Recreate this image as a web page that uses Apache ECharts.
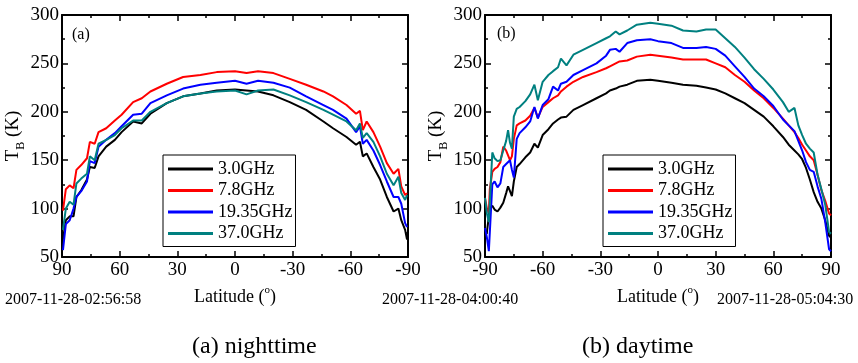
<!DOCTYPE html>
<html>
<head>
<meta charset="utf-8">
<script src="https://cdn.jsdelivr.net/npm/echarts@6/dist/echarts.min.js"></script>
<style>
    html, body {margin: 0; padding: 0; background: #fff;}
    #chart {width: 858px; height: 363px;}
</style>
</head>
<body>
<div id="chart"></div>
<script>
/*
* 数据：(a) 夜间
* */
var latA = [89.5, 88, 86, 84, 82.5, 80, 77, 75.5, 73, 71, 67, 62.5, 59, 53, 48.5, 44, 35.5, 27, 18, 9.5,
    0, -6, -12, -20, -28.5, -37, -46, -51, -58, -63, -65, -66.5, -68.5, -72, -75.5, -79, -82.5, -85, -86.5, -88.5, -89.5];
var tbA_3 = [68, 88, 92, 92, 112, 119, 130, 143, 142, 154, 164, 171, 179, 190, 188, 198, 209, 216, 219, 222,
    223, 222, 221, 217, 210, 202, 190, 183, 174, 166, 169, 154, 157, 143, 130, 112, 97, 100, 88, 78, 68];
var tbA_78 = [98, 120, 124, 121, 140, 145, 152, 169, 167, 179, 183, 191, 197, 210, 214, 221, 229, 236, 238, 241,
    242, 240, 242, 240, 234, 228, 221, 216, 207, 198, 201, 181, 190, 179, 164, 147, 136, 141, 123, 114, 116];
var tbA_1935 = [57, 84, 88, 100, 112, 118, 128, 149, 147, 164, 171, 178, 185, 197, 198, 209, 217, 224, 228, 230,
    232, 229, 232, 230, 225, 216, 207, 202, 193, 179, 185, 167, 171, 160, 145, 128, 112, 112, 105, 85, 81];
var tbA_37 = [78, 100, 107, 104, 126, 131, 136, 154, 150, 167, 171, 176, 183, 191, 191, 200, 209, 216, 219, 221,
    222, 218, 222, 223, 217, 210, 202, 197, 190, 181, 188, 173, 178, 169, 154, 136, 124, 133, 116, 109, 114];

/*
* 数据：(b) 白天
* */
var latB = [-90, -89, -88, -87.5, -86.2, -85, -83.5, -82, -80.5, -79, -78, -77, -76, -75, -73.5, -72, -69, -66.5,
    -64.3, -62.5, -60, -57, -54.6, -52, -50.5, -47.6, -44, -39, -32, -27, -25, -22, -20, -16, -11, -4,
    0, 7, 13, 20, 25, 30, 35, 40, 45, 50, 55, 60, 65, 68, 71, 73, 75, 77, 79, 81, 83, 85, 87, 89, 90];
var tbB_3 = [72, 76, 92, 100, 103, 99, 97, 101, 106, 116, 123, 118, 113, 128, 143, 146, 153, 158,
    167, 163, 176, 182, 188, 192, 194, 195, 202, 207, 214, 219, 222, 224, 226, 228, 232, 233,
    232, 230, 228, 227, 225, 223, 219, 214, 209, 202, 195, 185, 174, 166, 160, 156, 151, 142, 130, 117, 107, 100, 88, 72, 70];
var tbB_78 = [111, 100, 96, 120, 138, 141, 143, 148, 164, 160, 155, 150, 154, 172, 186, 188, 191, 196,
    204, 194, 205, 210, 214, 217, 221, 226, 231, 236, 241, 245, 247, 250, 252, 253, 257, 259,
    258, 256, 254, 254, 254, 250, 246, 238, 231, 222, 214, 204, 193, 186, 179, 173, 166, 160, 154, 150, 135, 119, 108, 95, 93];
var tbB_1935 = [80, 70, 56, 54, 125, 128, 122, 126, 143, 146, 145, 150, 140, 132, 172, 178, 184, 190,
    205, 193, 207, 213, 226, 222, 229, 231, 238, 243, 250, 258, 264, 265, 262, 271, 274, 275,
    273, 271, 266, 266, 267, 265, 258, 247, 236, 224, 216, 206, 192, 186, 180, 170, 160, 148, 140, 138, 123, 110, 86, 58, 56];
var tbB_37 = [111, 95, 86, 84, 158, 152, 149, 150, 160, 170, 181, 168, 162, 195, 203, 205, 211, 218,
    228, 212, 231, 238, 242, 246, 255, 248, 259, 264, 271, 276, 278, 283, 280, 284, 290, 292,
    291, 289, 284, 283, 285, 285, 276, 267, 256, 244, 234, 223, 210, 200, 204, 186, 176, 167, 162, 158, 135, 120, 104, 76, 74];

var names = ['3.0GHz', '7.8GHz', '19.35GHz', '37.0GHz'];
var colors = ['#000000', '#ff0000', '#0000ff', '#008080'];
var xTicks = {min: -90, max: 90, interval: 30};
var yTicks = {min: 50, max: 300, interval: 50};

var FONT = 'Liberation Serif';

function pairs(lats, vals) {
    var d = [];
    for (var i = 0; i < lats.length; i++) {
        d.push([lats[i], vals[i]]);
    }
    return d;
}

/*
* 坐标轴
* */
function xAxisOf(grid, inverse, pos) {
    return {
        type: 'value',
        gridIndex: grid,
        position: pos,
        min: xTicks.min,
        max: xTicks.max,
        interval: xTicks.interval,
        inverse: inverse,
        name: pos == 'bottom' ? '{n|Latitude (}{o|o}{n|)}' : '',
        nameLocation: 'middle',
        nameGap: 28,
        nameTextStyle: {
            rich: {
                n: {fontFamily: FONT, fontSize: 18, color: '#000', lineHeight: 24, verticalAlign: 'middle'},
                o: {fontFamily: FONT, fontSize: 11, color: '#000', lineHeight: 24, verticalAlign: 'top'}
            }
        },
        axisLine: {show: true, onZero: false, lineStyle: {color: '#000', width: 2}},
        axisTick: {show: true, inside: true, length: 6, lineStyle: {color: '#000', width: 1.5}},
        minorTick: {show: true, splitNumber: 2, length: 3, lineStyle: {color: '#000', width: 1.5}},
        axisLabel: {
            show: pos == 'bottom', margin: 4, color: '#000', fontFamily: FONT, fontSize: 19,
            formatter: function (v) { return String(v); }
        },
        splitLine: {show: false}
    };
}

function yAxisOf(grid, pos) {
    return {
        type: 'value',
        gridIndex: grid,
        position: pos,
        min: yTicks.min,
        max: yTicks.max,
        interval: yTicks.interval,
        name: pos == 'left' ? '{t|T}{s|B}{t| (K)}' : '',
        nameLocation: 'middle',
        nameRotate: 90,
        nameGap: 33,
        nameTextStyle: {
            rich: {
                t: {fontFamily: FONT, fontSize: 19, color: '#000', lineHeight: 28, verticalAlign: 'middle'},
                s: {fontFamily: FONT, fontSize: 12, color: '#000', lineHeight: 28, verticalAlign: 'bottom'}
            }
        },
        axisLine: {show: true, onZero: false, lineStyle: {color: '#000', width: 2}},
        axisTick: {show: true, inside: true, length: 6, lineStyle: {color: '#000', width: 1.5}},
        minorTick: {show: true, splitNumber: 2, length: 3, lineStyle: {color: '#000', width: 1.5}},
        axisLabel: {show: pos == 'left', margin: 3, color: '#000', fontFamily: FONT, fontSize: 19},
        splitLine: {show: false}
    };
}

function legendOf(left) {
    return {
        data: names,
        orient: 'vertical',
        left: left,
        top: 155,
        selectedMode: false,
        icon: 'rect',
        borderColor: '#000',
        borderWidth: 1,
        borderRadius: 0,
        padding: [5, 3, 4, 5],
        itemWidth: 45,
        itemHeight: 3,
        itemGap: 3.5,
        textStyle: {fontFamily: FONT, fontSize: 18, color: '#000', lineHeight: 18}
    };
}

function seriesOf(grid, lats, list) {
    var s = [];
    for (var i = 0; i < list.length; i++) {
        s.push({
            name: names[i],
            type: 'line',
            xAxisIndex: grid * 2,
            yAxisIndex: grid * 2,
            symbol: 'none',
            lineStyle: {color: colors[i], width: 2},
            itemStyle: {color: colors[i]},
            data: pairs(lats, list[i])
        });
    }
    return s;
}

function txt(x, y, text, size, align) {
    return {
        type: 'text', left: x, top: y,
        style: {text: text, fontFamily: FONT, fontSize: size, fill: '#000', textAlign: align || 'left', textVerticalAlign: 'middle'}
    };
}

var chart = echarts.init(document.getElementById('chart'));

var option = {
    animation: false,
    backgroundColor: '#fff',
    grid: [
        {left: 62, top: 15, width: 346, height: 242},
        {left: 485, top: 15, width: 346, height: 242}
    ],
    xAxis: [
        xAxisOf(0, true, 'bottom'), xAxisOf(0, true, 'top'),
        xAxisOf(1, false, 'bottom'), xAxisOf(1, false, 'top')
    ],
    yAxis: [
        yAxisOf(0, 'left'), yAxisOf(0, 'right'),
        yAxisOf(1, 'left'), yAxisOf(1, 'right')
    ],
    legend: [legendOf(163), legendOf(603)],
    series: seriesOf(0, latA, [tbA_3, tbA_78, tbA_1935, tbA_37])
        .concat(seriesOf(1, latB, [tbB_3, tbB_78, tbB_1935, tbB_37])),
    graphic: [
        txt(72, 27, '(a)', 16),
        txt(497, 26, '(b)', 16),
        txt(5, 292, '2007-11-28-02:56:58', 16),
        txt(382, 292, '2007-11-28-04:00:40', 16),
        txt(717, 292, '2007-11-28-05:04:30', 16),
        txt(192, 335, '(a) nighttime', 24),
        txt(582, 335, '(b) daytime', 24)
    ]
};

chart.setOption(option);
</script>
</body>
</html>
